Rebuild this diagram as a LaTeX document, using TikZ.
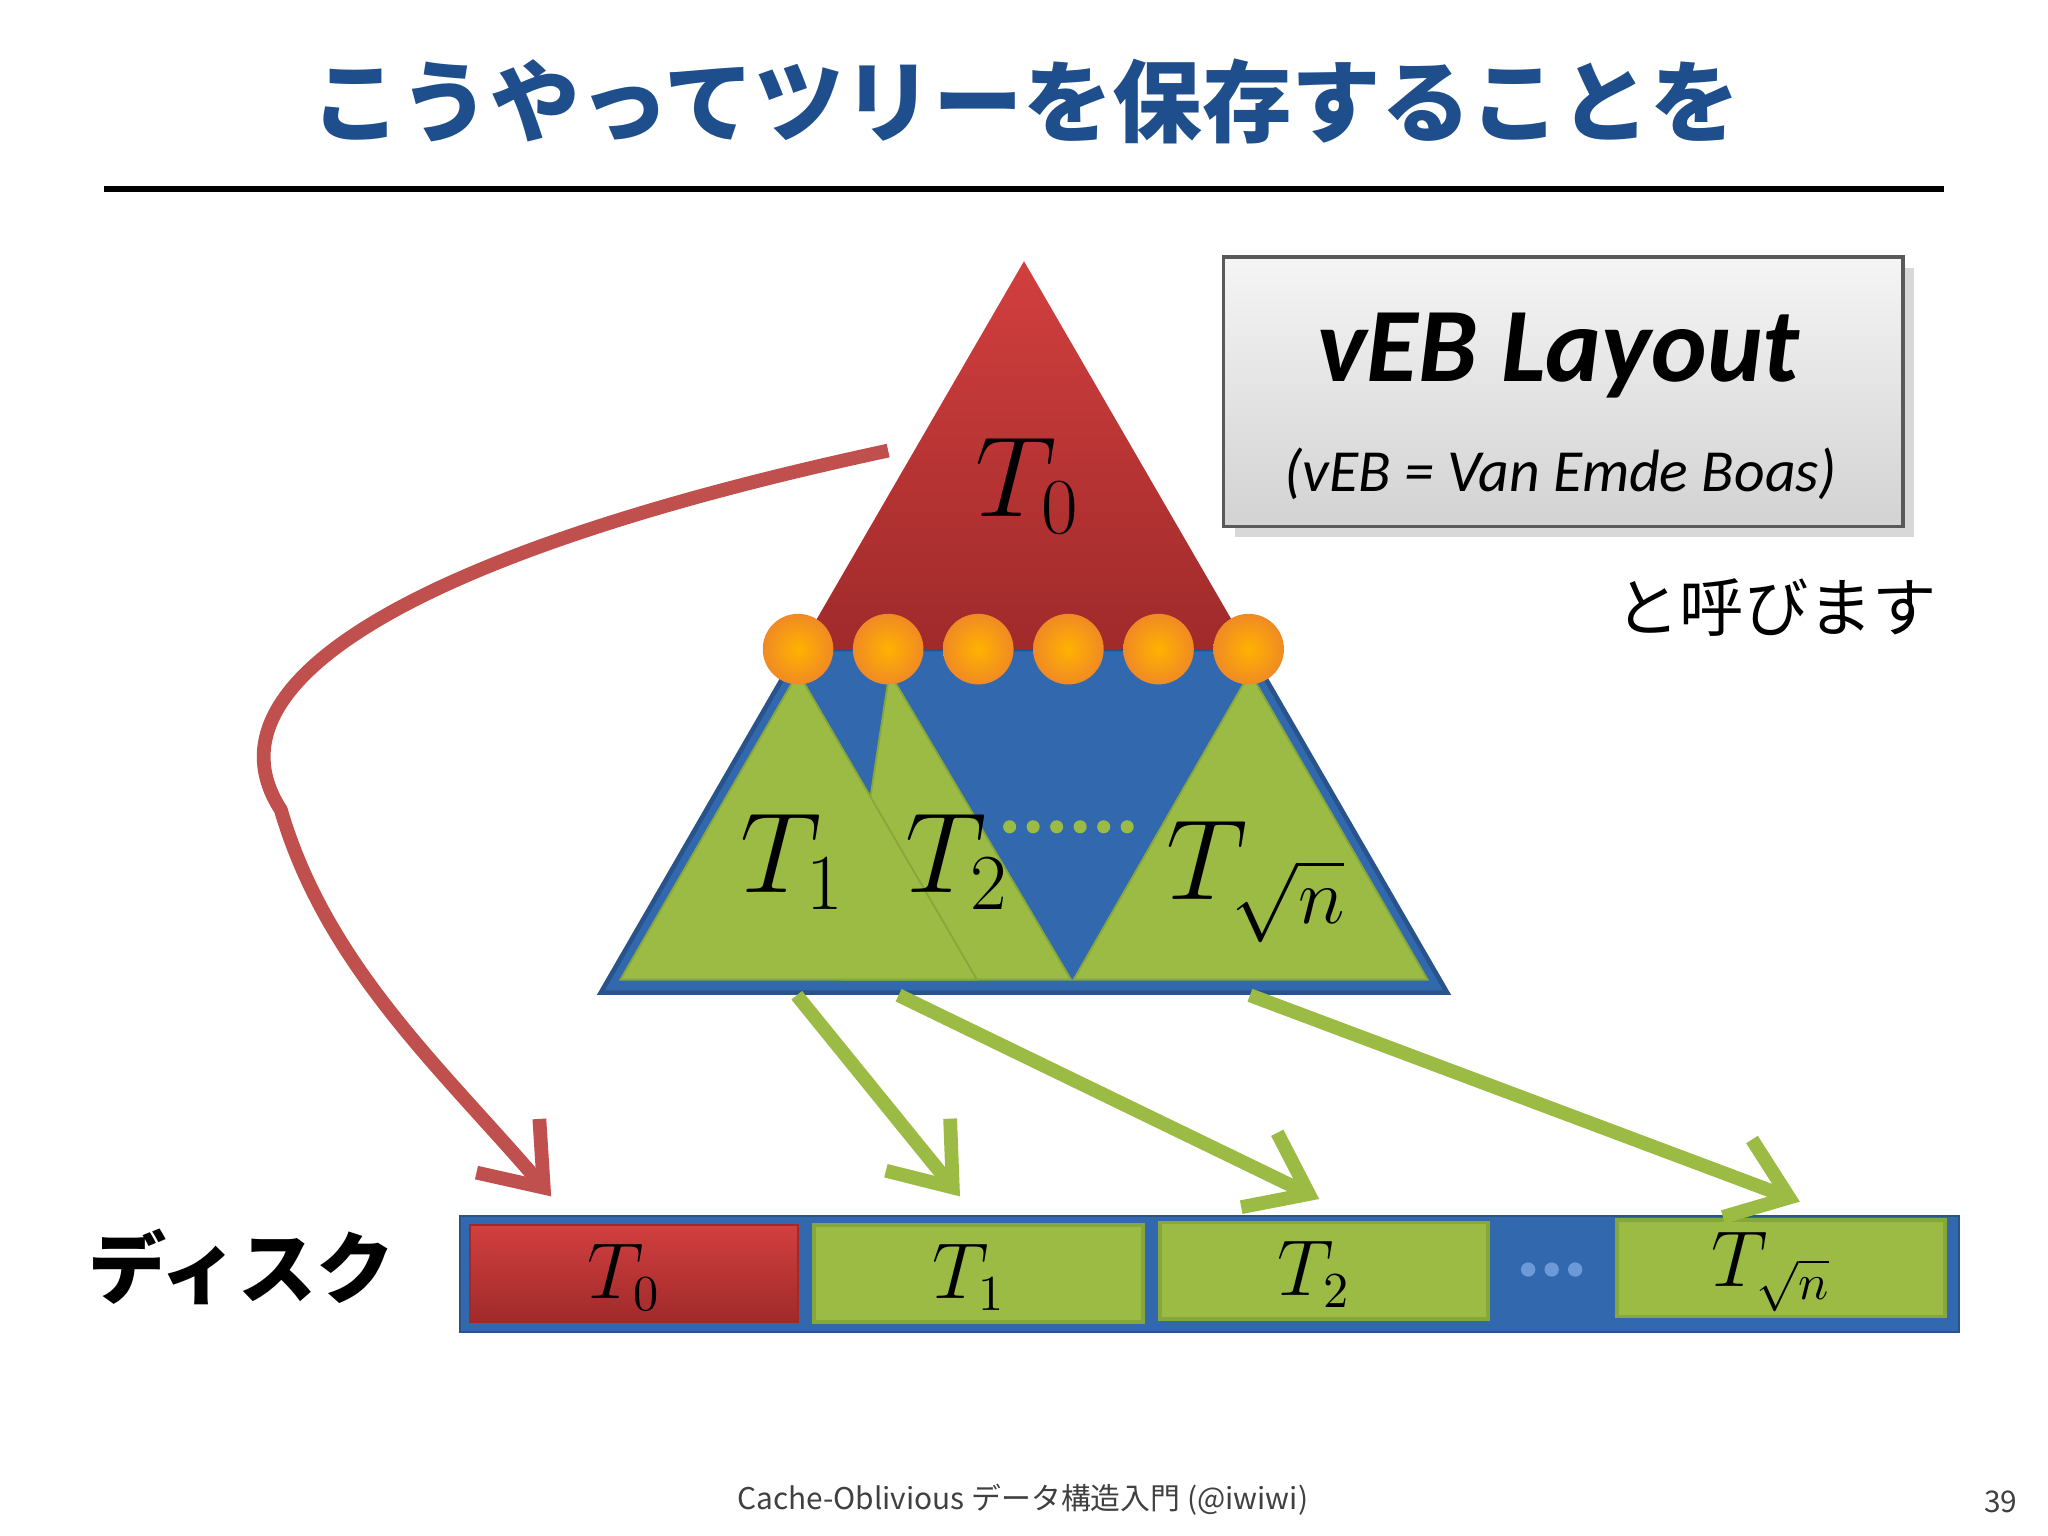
\documentclass[tikz,border=0pt]{standalone}
\usepackage{fontspec}
\usepackage{amsmath}
\setmainfont{Carlito}
\newfontfamily\jp{Noto Sans CJK JP}
\usetikzlibrary{arrows.meta,shadows}
\definecolor{ttl}{HTML}{1F4E8C}
\definecolor{rtop}{HTML}{D23F3F}
\definecolor{rbot}{HTML}{A02A2A}
\definecolor{bl}{HTML}{3268AE}
\definecolor{gr}{HTML}{9BBB45}
\definecolor{grd}{HTML}{86A83A}
\definecolor{org}{HTML}{F08A24}
\definecolor{arrR}{HTML}{C0504D}
\begin{document}
\begin{tikzpicture}[x=0.01cm,y=-0.01cm,
  cell/.style={draw=grd,line width=0.8pt},
  garrow/.style={draw=gr,line width=3pt,-{Straight Barb[length=12pt,width=18pt]}},
  ball/.style={circle,minimum size=54\pgflinewidth,inner sep=0pt,shading=radial,inner color=orange!70!yellow,outer color=org,draw=org!80!black,line width=0.4pt}]
\useasboundingbox (0,0) rectangle (1568,1176);
\fill[white] (0,0) rectangle (1568,1176);
% title
\node (title) at (785,78) {\jp\bfseries\fontsize{19.5pt}{22pt}\selectfont\color{ttl}こうやってツリーを保存することを};
\draw[line width=1.3pt] (80,145) -- (1488,145);
% big triangle
\fill[bl, draw=bl!80!black, line width=1pt] (460,760) -- (612,497) -- (956,497) -- (1108,760) -- cycle;
\shade[top color=rtop,bottom color=rbot] (784,200) -- (612,497) -- (956,497) -- cycle;
% green triangles
\fill[gr, draw=grd] (645,750) -- (681,515) -- (820,750) -- cycle;
\fill[gr, draw=grd] (475,750) -- (611,515) -- (748,750) -- cycle;
\fill[gr, draw=grd] (822,750) -- (957,515) -- (1093,750) -- cycle;
% balls
\foreach \x/\n in {611/1,680/2,749/3,818/4,887/5,956/6}
  \node[circle,minimum size=0.54cm,inner sep=0pt,shading=radial,inner color=orange!60!yellow,outer color=org] (b\n) at (\x,497) {};
\foreach \x in {773,791,809,827,845,863}
  \fill[gr] (\x,633) circle (5);
% labels
\node (lt0) at (787,372) {\fontsize{24pt}{26pt}\selectfont$T_0$};
\node (lt1) at (607,660) {\fontsize{24pt}{26pt}\selectfont$T_1$};
\node (lt2) at (733,660) {\fontsize{24pt}{26pt}\selectfont$T_2$};
\node (ltn) at (962,675) {\fontsize{24pt}{26pt}\selectfont$T_{\sqrt{n}}$};
% box
\node[draw=gray!70!black,line width=0.8pt,top color=gray!8,bottom color=gray!35,minimum width=5.2cm,minimum height=2.06cm,drop shadow={opacity=0.3}] (box) at (1197,300) {};
\node (veb) at (1193,272) {\fontsize{23pt}{26pt}\selectfont\bfseries\itshape vEB Layout};
\node (vebs) at (1195,363) {\fontsize{13pt}{15pt}\selectfont\itshape (vEB = Van Emde Boas)};
\node (yobi) at (1360,465) {\jp\fontsize{14pt}{16pt}\selectfont と呼びます};
% disk
\fill[bl, draw=bl!80!black] (352,931) rectangle (1500,1020);
\shade[top color=rtop,bottom color=rbot,draw=rbot] (360,938) rectangle (611,1012);
\node (c0) at (485,975) {};
\fill[cell,fill=gr] (623,938) rectangle (875,1012);
\node (c1) at (749,975) {};
\fill[cell,fill=gr] (888,936) rectangle (1139,1010);
\node (c2) at (1013,973) {};
\fill[cell,fill=gr] (1238,934) rectangle (1489,1008);
\node (c3) at (1363,971) {};
\foreach \x in {1170,1188,1206} \fill[cyan!50!blue!60] (\x,972) circle (5.5);
\node at (478,978) {\fontsize{16pt}{18pt}\selectfont$T_0$};
\node at (742,978) {\fontsize{16pt}{18pt}\selectfont$T_1$};
\node at (1006,976) {\fontsize{16pt}{18pt}\selectfont$T_2$};
\node at (1356,974) {\fontsize{16pt}{18pt}\selectfont$T_{\sqrt{n}}$};
\node (disk) at (185,970) {\jp\bfseries\fontsize{17pt}{19pt}\selectfont ディスク};
% arrows
\coordinate (rs) at (680,345);
\coordinate (re) at (422,916);
\draw[arrR,line width=3pt,-{Straight Barb[length=12pt,width=18pt]}] (rs) .. controls (330,420) and (150,520) .. (215,620) .. controls (250,740) and (340,820) .. (re);
\coordinate (g1s) at (610,762); \coordinate (g1e) at (735,916);
\coordinate (g2s) at (688,762); \coordinate (g2e) at (1010,918);
\coordinate (g3s) at (957,762); \coordinate (g3e) at (1378,920);
\draw[garrow] (g1s) -- (g1e);
\draw[garrow] (g2s) -- (g2e);
\draw[garrow] (g3s) -- (g3e);
% footer
\node (foot) at (783,1148) {\jp\fontsize{6.5pt}{8pt}\selectfont\color{gray!50!black}Cache-Oblivious データ構造入門 (@iwiwi)};
\node (pg) at (1532,1150) {\jp\fontsize{6.5pt}{8pt}\selectfont\color{gray!50!black}39};
\end{tikzpicture}
\end{document}
